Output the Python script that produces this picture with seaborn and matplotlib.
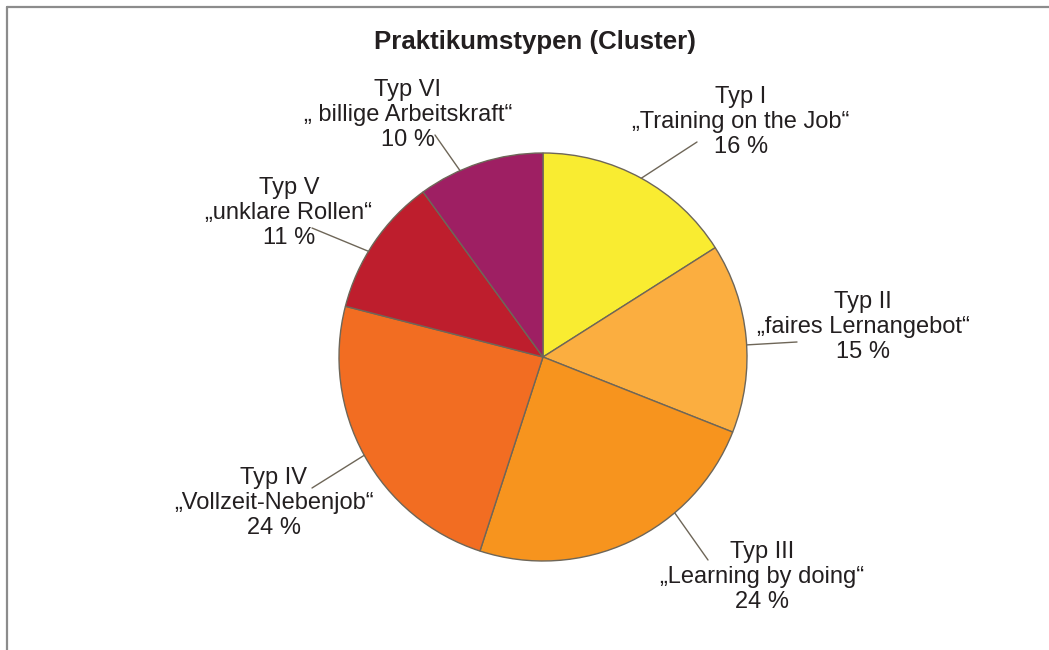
import matplotlib.pyplot as plt
import numpy as np
import seaborn as sns
from matplotlib.lines import Line2D

# chart data
types = ["Typ I", "Typ II", "Typ III", "Typ IV", "Typ V", "Typ VI"]
names = [
    "„Training on the Job“",
    "„faires Lernangebot“",
    "„Learning by doing“",
    "„Vollzeit-Nebenjob“",
    "„unklare Rollen“",
    "„ billige Arbeitskraft“",
]
shares = [16, 15, 24, 24, 11, 10]
colors = ["#F9EC31", "#FBAE40", "#F7941E", "#F26D22", "#BE1E2D", "#9E1F63"]

# layout (pixels of the 1049x650 canvas, pie centre and radius)
W, H = 1049, 650
CX, CY, R = 543, 357, 204
text_px = [(741, 122), (863, 327), (762, 577), (274, 503), (289, 213), (408, 115)]
line_end_px = [(697, 142), (797, 342), (708, 560), (312, 488), (312, 228), (435, 135)]
leader_nudge = [0, -2, 15, 0, 3, 6]
edge_col = "#6E6658"

sns.set_theme(style="white")
plt.rcParams["font.family"] = ["Liberation Sans", "DejaVu Sans"]


def to_data(p):
    return ((p[0] - CX) / R, (CY - p[1]) / R)


fig = plt.figure(figsize=(W / 100, H / 100), dpi=100)
ax = fig.add_axes([0, 0, 1, 1])

wedges, _ = ax.pie(
    shares,
    colors=sns.color_palette(colors),
    startangle=90,
    counterclock=False,
    radius=1,
    wedgeprops={"edgecolor": edge_col, "linewidth": 1.0},
)
ax.set_xlim(-CX / R, (W - CX) / R)
ax.set_ylim(-(H - CY) / R, CY / R)
ax.set_aspect("equal")
ax.axis("off")

for i, w in enumerate(wedges):
    mid = np.deg2rad((w.theta1 + w.theta2) / 2 + leader_nudge[i])
    start = (np.cos(mid), np.sin(mid))
    end = to_data(line_end_px[i])
    ax.plot([start[0], end[0]], [start[1], end[1]], color=edge_col, lw=1.0)
    tx, ty = to_data(text_px[i])
    ax.text(
        tx, ty,
        f"{types[i]}\n{names[i]}\n{shares[i]} %",
        ha="center", va="center", multialignment="center",
        fontsize=17, color="#231F20", linespacing=1.16,
    )

tx, ty = to_data((535, 42))
ax.text(tx, ty, "Praktikumstypen (Cluster)", ha="center", va="center",
        fontsize=18.6, fontweight="bold", color="#231F20")

# frame lines on top and left
fig.add_artist(Line2D([7 / W, 1], [1 - 7 / H, 1 - 7 / H], color="#8C8C8C", lw=1.6))
fig.add_artist(Line2D([7 / W, 7 / W], [0, 1 - 7 / H], color="#8C8C8C", lw=1.6))

fig.savefig("out.png", dpi=100)
